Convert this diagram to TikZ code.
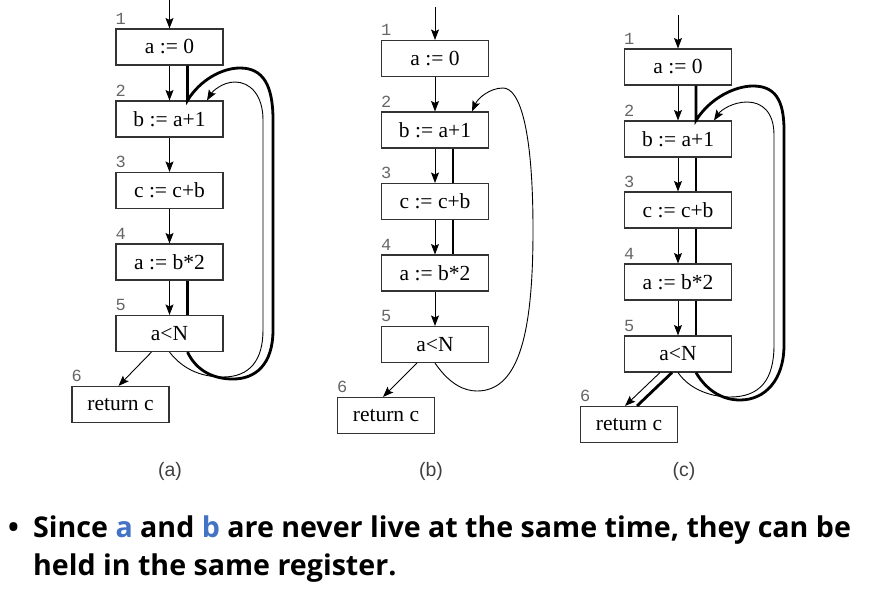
\documentclass[tikz,border=0pt]{standalone}
\usepackage{fontspec}
\setmainfont{Liberation Serif}
\newfontfamily\numfont{Liberation Mono}
\newfontfamily\capfont{Liberation Sans}
\newfontfamily\calfont{Open Sans}
\usetikzlibrary{arrows.meta,calc}
\definecolor{offblue}{RGB}{68,114,196}
\begin{document}
\begin{tikzpicture}[x=1pt,y=-1pt,
  box/.style={draw=black!80, line width=1.1pt, minimum width=107pt, minimum height=36pt, inner sep=0pt, font=\fontsize{21.5}{24}\selectfont},
  arr/.style={-{Stealth[length=10.5pt,width=8pt,inset=2pt]}, line width=0.9pt},
  flow/.style={line width=0.9pt},
  live/.style={line width=2.8pt},
  num/.style={font=\numfont\fontsize{17}{18}\selectfont, text=black!60, anchor=base west, inner sep=0pt},
  capt/.style={font=\capfont\fontsize{19.5}{22}\selectfont, text=black!75},
  bul/.style={font=\calfont\bfseries\fontsize{28.6}{34}\selectfont, anchor=base west, inner sep=0pt}
]
\useasboundingbox (0,0) rectangle (875,592);

% ---------- (a)
\node[box] (a1) at (169.5,47) {a := 0};
\node[box] (a2) at (169.5,119) {b := a+1};
\node[box] (a3) at (169.5,190.5) {c := c+b};
\node[box] (a4) at (169.5,262) {a := b*2};
\node[box] (a5) at (169.5,333.5) {a<N};
\node[box, minimum width=97pt] (a6) at (120.5,404.5) {return c};
\foreach \i in {1,...,6} \node[num] (na\i) at ([shift={(0,-4)}]a\i.north west) {\i};
\coordinate (a0) at (169.5,0);
\draw[arr] (a0) -- (a1);
\draw[arr] (a1) -- (a2);
\draw[arr] (a2) -- (a3);
\draw[arr] (a3) -- (a4);
\draw[arr] (a4) -- (a5);
\draw[arr] ([xshift=-18pt]a5.south) -- ([xshift=-2pt]a6.north);
\draw[live] ([xshift=18pt]a1.south) -- ([xshift=18pt]a2.north)
  .. controls (200,80) and (222,68) .. (240,68)
  .. controls (263,68) and (273,85) .. (273,120) -- (273,330)
  .. controls (273,365) and (255,379) .. (233,379)
  .. controls (210,379) and (195,368) .. ([xshift=18pt]a5.south);
\draw[live] ([xshift=18pt]a4.south) -- ([xshift=18pt]a5.north);
\draw[arr] (a5.south) .. controls (185,372) and (205,377) .. (223,377)
  .. controls (250,377) and (263,360) .. (263,330) -- (263,120)
  .. controls (263,95) and (250,82) .. (235,82)
  .. controls (222,82) and (212,92) .. ([xshift=37.5pt]a2.north);
\node[capt] (capa) at (170,471) {(a)};

% ---------- (b)
\node[box] (b1) at (435,58.5) {a := 0};
\node[box] (b2) at (435,130) {b := a+1};
\node[box] (b3) at (435,201.5) {c := c+b};
\node[box] (b4) at (435,273) {a := b*2};
\node[box] (b5) at (435,344.5) {a<N};
\node[box, minimum width=97pt] (b6) at (386,415.5) {return c};
\foreach \i in {1,...,6} \node[num] (nb\i) at ([shift={(0,-4)}]b\i.north west) {\i};
\coordinate (b0) at (435,7);
\draw[arr] (b0) -- (b1);
\draw[arr] (b1) -- (b2);
\draw[arr] (b2) -- (b3);
\draw[arr] (b3) -- (b4);
\draw[arr] (b4) -- (b5);
\draw[arr] ([xshift=-18pt]b5.south) -- ([xshift=-3pt]b6.north);
\draw[live] ([xshift=18pt]b2.south) -- ([xshift=18pt]b3.north);
\draw[live] ([xshift=18pt]b3.south) -- ([xshift=18pt]b4.north);
\draw[arr] (b5.south) .. controls (450,385) and (465,391) .. (477,391)
  .. controls (520,391) and (533,330) .. (533,230)
  .. controls (533,130) and (520,88) .. (503,88)
  .. controls (490,88) and (478,98) .. ([xshift=37pt]b2.north);
\node[capt] (capb) at (431,471) {(b)};

% ---------- (c)
\node[box] (c1) at (678,67) {a := 0};
\node[box] (c2) at (678,139) {b := a+1};
\node[box] (c3) at (678,210) {c := c+b};
\node[box] (c4) at (678,282) {a := b*2};
\node[box] (c5) at (678,354) {a<N};
\node[box, minimum width=97pt] (c6) at (629,424.5) {return c};
\foreach \i in {1,...,6} \node[num] (nc\i) at ([shift={(0,-4)}]c\i.north west) {\i};
\coordinate (c0) at (678,15);
\draw[arr] (c0) -- (c1);
\draw[arr] (c1) -- (c2);
\draw[arr] (c2) -- (c3);
\draw[arr] (c3) -- (c4);
\draw[arr] (c4) -- (c5);
\draw[arr] ([xshift=-18pt]c5.south) -- ([xshift=-4pt]c6.north);
\draw[live] ([xshift=-6pt]c5.south) -- ([xshift=8pt]c6.north);
\draw[live] ([xshift=18pt]c1.south) -- ([xshift=18pt]c2.north)
  .. controls (710,98) and (735,86) .. (753,86)
  .. controls (775,86) and (784,100) .. (784,130) -- (784,345)
  .. controls (784,380) and (765,400) .. (740,400)
  .. controls (720,400) and (705,388) .. ([xshift=18pt]c5.south);
\draw[live] ([xshift=18pt]c2.south) -- ([xshift=18pt]c3.north);
\draw[live] ([xshift=18pt]c3.south) -- ([xshift=18pt]c4.north);
\draw[live] ([xshift=18pt]c4.south) -- ([xshift=18pt]c5.north);
\draw[arr] (c5.south) .. controls (690,390) and (712,397) .. (730,397)
  .. controls (760,397) and (774,380) .. (774,345) -- (774,135)
  .. controls (774,112) and (762,102) .. (747,102)
  .. controls (733,102) and (721,110) .. ([xshift=36pt]c2.north);
\node[capt] (capc) at (684,471) {(c)};

% ---------- bullet text
\node[bul] (dot) at (8,537) {•};
\node[bul] (l1) at (33,537) {Since \textcolor{offblue}{a} and \textcolor{offblue}{b} are never live at the same time, they can be};
\node[bul] (l2) at (33,575) {held in the same register.};
\end{tikzpicture}
\end{document}
